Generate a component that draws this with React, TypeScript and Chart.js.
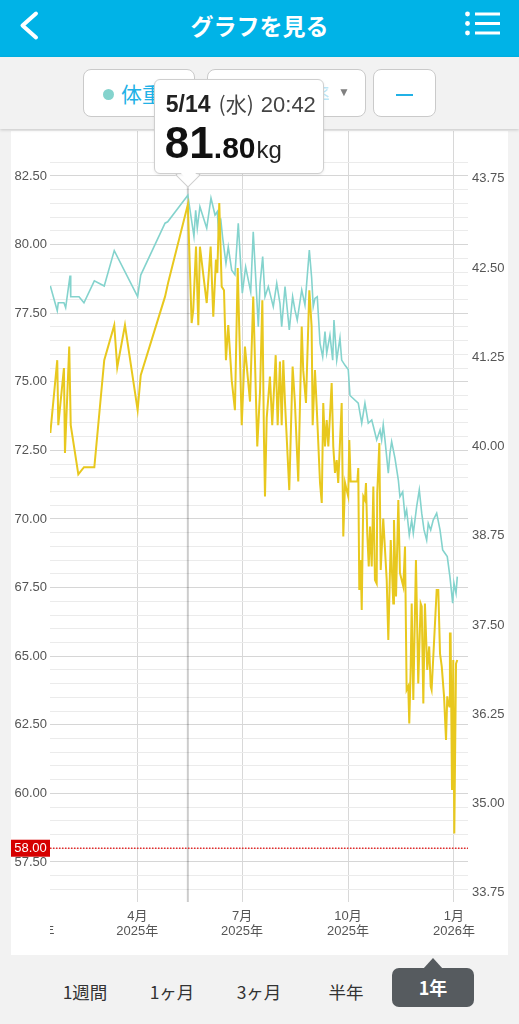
import React, { useEffect, useRef, useState } from 'react';
import { Chart, registerables } from 'chart.js';

Chart.register(...registerables);

// ---- data (x = days since 2025-01-01) ----
const weightDays = [
  14.5, 20.5, 21.4, 26.3, 27.8, 31.6, 32.2, 39.4, 43.7, 52.7, 61.3, 70.0, 90.3, 93.0, 114.1, 116.4, 133.9,
  139.2, 140.7, 142.1, 144.4, 150.3, 154.0, 157.5, 159.5, 161.0, 162.4, 164.2, 167.0, 169.0, 172.0, 174.8,
  177.7, 181.2, 184.1, 188.5, 190.7, 195.1, 196.6, 198.9, 200.9, 203.8, 208.1, 211.1, 213.9, 215.4, 218.3,
  222.0, 224.9, 226.9, 228.9, 232.8, 235.6, 239.4, 241.4, 242.8, 244.3, 246.3, 248.7, 251.0, 253.0, 254.5,
  257.3, 259.7, 260.8, 263.2, 266.0, 267.5, 270.4, 273.2, 274.7, 281.9, 284.9, 287.7, 290.6, 293.6, 295.1,
  297.9, 300.8, 302.2, 303.6, 305.1, 308.0, 309.4, 310.9, 313.8, 316.7, 318.1, 320.5, 322.5, 323.9, 326.2,
  328.3, 329.7, 332.6, 334.9, 337.0, 339.0, 341.3, 342.7, 344.8, 347.0, 350.0, 352.9, 355.2, 357.2, 359.2,
  361.5, 363.9, 365.0, 366.8, 367.9,
];
const weightValues = [
  78.49, 77.59, 77.88, 77.88, 77.7, 78.87, 78.1, 78.1, 77.88, 78.68, 78.49, 79.78, 78.1, 78.89, 80.78, 80.83, 81.8,
  80.3, 81.25, 80.6, 81.38, 80.6, 81.7, 81.08, 81.2, 80.17, 80.96, 80.23, 79.32, 79.92, 79.07, 78.9,
  80.78, 78.23, 79.19, 78.28, 80.47, 77.01, 78.55, 79.56, 78.1, 78.47, 77.74, 78.59, 77.86, 77.01, 78.47,
  76.89, 78.1, 77.62, 77.25, 78.35, 77.8, 79.8, 78.8, 77.74, 78.04, 78.1, 76.4, 75.91, 76.83, 76.04,
  76.7, 75.79, 77.25, 75.79, 76.6, 75.79, 75.6, 75.45, 74.5, 74.22, 73.49, 74.22, 73.49, 73.61, 73.36,
  72.88, 73.24, 72.88, 73.43, 72.88, 71.67, 72.39, 72.82, 72.21, 71.42, 70.81, 70.99, 70.08, 70.33, 69.42,
  69.96, 69.48, 70.45, 71.06, 70.21, 69.6, 69.23, 69.84, 69.6, 69.96, 70.21, 69.6, 68.87, 68.75, 68.63,
  67.9, 66.93, 67.66, 67.29, 67.9,
];
const fatDays = [
  14.5, 20.5, 21.4, 26.3, 27.2, 30.9, 32.2, 38.8, 43.7, 52.7, 61.3, 70.0, 72.6, 79.3, 90.3, 93.0, 114.1, 117.0, 133.9,
  137.2, 138.6, 141.0, 143.0, 144.4, 150.3, 153.7, 156.0, 158.3, 159.5, 161.2, 163.3, 165.3, 167.0, 169.0, 172.0,
  174.8, 177.2, 180.7, 183.5, 187.9, 190.7, 194.2, 196.6, 198.6, 200.0, 200.9, 202.4, 205.2, 207.2, 210.2, 211.9,
  213.9, 215.4, 216.8, 218.3, 222.0, 224.9, 226.9, 229.8, 232.8, 234.1, 236.5, 239.4, 241.4, 242.3, 244.3, 245.8,
  248.7, 250.2, 251.5, 253.0, 254.5, 255.9, 257.3, 258.8, 260.2, 261.7, 263.2, 264.5, 267.5, 268.9, 270.4, 271.8,
  273.2, 274.1, 275.3, 281.1, 281.9, 282.8, 284.0, 284.9, 286.3, 287.7, 288.6, 289.7, 291.0, 292.1, 293.6, 295.0,
  296.4, 297.9, 298.4, 300.2, 301.4, 303.6, 306.6, 308.0, 310.1, 312.3, 312.9, 314.7, 316.7, 318.1, 321.0, 322.5,
  323.9, 325.3, 326.2, 327.4, 328.3, 329.7, 332.0, 334.0, 336.1, 337.0, 338.4, 339.8, 341.8, 343.5, 344.8, 345.6,
  350.0, 351.4, 352.9, 354.4, 356.4, 358.1, 359.2, 360.1, 361.0, 361.5, 362.1, 363.3, 364.4, 365.3, 366.8, 367.9,
];
const fatValues = [
  40.19, 41.21, 40.3, 41.1, 39.91, 41.4, 40.3, 39.61, 39.71, 39.71, 41.21, 41.7, 41.11, 41.7, 40.51, 41.0, 42.1, 42.31, 43.39,
  41.73, 41.91, 42.8, 41.7, 42.8, 42.01, 42.8, 41.82, 42.62, 42.43, 43.41, 42.24, 42.19, 41.21, 41.7, 40.93,
  40.51, 42.5, 40.3, 41.4, 40.63, 42.1, 40.0, 40.77, 42.05, 40.12, 39.3, 40.4, 40.98, 40.3, 41.28, 40.3,
  41.19, 40.3, 41.21, 40.61, 39.39, 41.12, 40.61, 39.51, 41.68, 41.07, 40.61, 42.19, 41.68, 40.3, 41.07, 40.56,
  39.49, 39.21, 40.61, 40.0, 40.37, 40.0, 40.42, 40.89, 40.0, 39.63, 39.81, 39.49, 40.61, 38.74, 39.49, 39.39,
  39.3, 40.09, 39.51, 39.51, 39.7, 37.99, 38.41, 37.71, 39.3, 39.25, 39.49, 38.79, 38.32, 38.88, 38.32, 39.44,
  38.13, 38.08, 39.35, 40.05, 38.27, 38.99, 38.13, 37.29, 38.69, 37.8, 38.97, 37.9, 39.25, 38.23, 38.04, 38.6,
  36.59, 36.64, 36.12, 36.87, 37.8, 36.45, 38.41, 36.68, 37.8, 37.76, 36.4, 37.8, 36.87, 37.2, 36.64, 36.59,
  37.99, 37.99, 37.1, 36.92, 36.5, 35.89, 36.5, 36.4, 36.36, 37.38, 37.38, 35.19, 37.01, 34.58, 36.96, 37.01,
];

const monthTickDays = [0, 90, 181, 273, 365];
const monthTickLabels = [
  ['1月', '2025年'],
  ['4月', '2025年'],
  ['7月', '2025年'],
  ['10月', '2025年'],
  ['1月', '2026年'],
];
const weightLabelTicks = [57.5, 60, 62.5, 65, 67.5, 70, 72.5, 75, 77.5, 80, 82.5];
const weightGridStep = 0.5;
const weightGridFrom = 56.5;
const weightGridTo = 83;
const fatTicks = [33.75, 35.0, 36.25, 37.5, 38.75, 40.0, 41.25, 42.5, 43.75];
const targetWeight = 58.0;

const selectedIndex = 16;
const selectedDate = '5/14';
const selectedWeekday = '(水)';
const selectedTime = '20:42';

const tabLabels = ['1週間', '1ヶ月', '3ヶ月', '半年', '1年'];
const selectedTab = 4;

// ---- style ----
const FONT = '"Helvetica Neue", Arial, "Liberation Sans", "Noto Sans CJK JP", sans-serif';
const TEAL = '#84d3cd';
const YELLOW = '#e8c81e';
const BLUE = '#00b3e7';
const AXIS_TEXT = '#555555';

const X_MIN = 14.2;
const X_MAX = 377.2;
const YL_MIN = 56.04;
const YL_MAX = 84.14;
const YR_MIN = 33.62;
const YR_MAX = 44.42;

const CARD_LEFT = 11;
const CARD_TOP = 131;
const CARD_W = 497;
const CARD_H = 824;
const PLOT_BOTTOM = 771;

const isMajor = (v: number) => weightLabelTicks.some((t) => Math.abs(t - v) < 1e-6);
const noPad = (s: any) => {
  s.paddingTop = 0;
  s.paddingBottom = 0;
  s.paddingLeft = 0;
  s.paddingRight = 0;
};

export default function App() {
  const canvasRef = useRef<HTMLCanvasElement | null>(null);
  const [tip, setTip] = useState<{ x: number; y: number } | null>(null);

  useEffect(() => {
    const canvas = canvasRef.current;
    if (!canvas) return;

    const overlay = {
      id: 'overlay',
      beforeDatasetsDraw(chart: any) {
        const { ctx, chartArea, scales } = chart;
        const x = scales.x.getPixelForValue(weightDays[selectedIndex]);
        ctx.save();
        ctx.strokeStyle = 'rgba(0,0,0,0.2)';
        ctx.lineWidth = 2;
        ctx.beginPath();
        ctx.moveTo(x, chartArea.top);
        ctx.lineTo(x, chartArea.bottom);
        ctx.stroke();
        ctx.restore();
      },
      afterDraw(chart: any) {
        const { ctx, chartArea, scales } = chart;
        // target line
        const ty = scales.yL.getPixelForValue(targetWeight);
        ctx.save();
        ctx.strokeStyle = '#e32b2b';
        ctx.lineWidth = 1.5;
        ctx.setLineDash([1.5, 1.5]);
        ctx.beginPath();
        ctx.moveTo(chartArea.left, ty);
        ctx.lineTo(chartArea.right, ty);
        ctx.stroke();
        ctx.setLineDash([]);
        ctx.fillStyle = '#d60000';
        ctx.fillRect(0, ty - 8.5, chartArea.left, 17);
        ctx.fillStyle = '#ffffff';
        ctx.font = '13px ' + FONT;
        ctx.textAlign = 'center';
        ctx.textBaseline = 'middle';
        ctx.fillText(targetWeight.toFixed(2), chartArea.left / 2, ty + 0.5);
        ctx.restore();

        // month labels lying outside the visible range (clipped at the plot edge)
        ctx.save();
        ctx.beginPath();
        ctx.rect(chartArea.left, chartArea.bottom, chartArea.right - chartArea.left, chart.height - chartArea.bottom);
        ctx.clip();
        ctx.fillStyle = AXIS_TEXT;
        ctx.font = '13px ' + FONT;
        ctx.textAlign = 'center';
        ctx.textBaseline = 'middle';
        monthTickDays.forEach((d, i) => {
          if (d >= X_MIN && d <= X_MAX) return;
          const px = scales.x.getPixelForValue(d);
          monthTickLabels[i].forEach((line, j) => {
            ctx.fillText(line, px, chartArea.bottom + 7 + 7.5 + j * 15);
          });
        });
        ctx.restore();
      },
    };

    const chart = new Chart(canvas, {
      type: 'line',
      data: {
        datasets: [
          {
            label: '体脂肪率',
            data: fatDays.map((d, i) => ({ x: d, y: fatValues[i] })),
            yAxisID: 'yR',
            borderColor: YELLOW,
            borderWidth: 2,
            pointRadius: 0,
            tension: 0,
          },
          {
            label: '体重',
            data: weightDays.map((d, i) => ({ x: d, y: weightValues[i] })),
            yAxisID: 'yL',
            borderColor: TEAL,
            borderWidth: 1.6,
            pointRadius: 0,
            tension: 0,
          },
        ],
      },
      options: {
        animation: false,
        responsive: false,
        events: [],
        layout: { padding: 0 },
        plugins: { legend: { display: false }, tooltip: { enabled: false } },
        scales: {
          x: {
            type: 'linear',
            min: X_MIN,
            max: X_MAX,
            afterBuildTicks: (s: any) => {
              s.ticks = monthTickDays.filter((d) => d >= X_MIN && d <= X_MAX).map((v) => ({ value: v }));
            },
            afterFit: (s: any) => {
              s.height = CARD_H - PLOT_BOTTOM;
              noPad(s);
            },
            ticks: {
              autoSkip: false,
              maxRotation: 0,
              padding: 7,
              color: AXIS_TEXT,
              font: { family: FONT, size: 13, lineHeight: 1.15 },
              callback: (v: any) => {
                const i = monthTickDays.indexOf(Number(v));
                return i >= 0 ? monthTickLabels[i] : '';
              },
            },
            grid: { color: '#d8d8d8', lineWidth: 1, drawTicks: false },
            border: { display: false },
          },
          yL: {
            type: 'linear',
            position: 'left',
            min: YL_MIN,
            max: YL_MAX,
            afterBuildTicks: (s: any) => {
              const t: any[] = [];
              for (let v = weightGridFrom; v <= weightGridTo + 1e-9; v += weightGridStep) t.push({ value: Math.round(v * 100) / 100 });
              s.ticks = t;
            },
            afterFit: (s: any) => {
              s.width = 39;
              noPad(s);
            },
            ticks: {
              autoSkip: false,
              padding: 3,
              color: AXIS_TEXT,
              font: { family: FONT, size: 13 },
              callback: (v: any) => (isMajor(Number(v)) ? Number(v).toFixed(2) : ''),
            },
            grid: {
              drawTicks: false,
              lineWidth: 1,
              color: (ctx: any) => (ctx.tick && isMajor(ctx.tick.value) ? '#d6d6d6' : '#ebebeb'),
            },
            border: { display: false },
          },
          yR: {
            type: 'linear',
            position: 'right',
            min: YR_MIN,
            max: YR_MAX,
            afterBuildTicks: (s: any) => {
              s.ticks = fatTicks.map((v) => ({ value: v }));
            },
            afterFit: (s: any) => {
              s.width = 40;
              noPad(s);
            },
            ticks: {
              autoSkip: false,
              padding: 4,
              color: AXIS_TEXT,
              font: { family: FONT, size: 13 },
              callback: (v: any) => Number(v).toFixed(2),
            },
            grid: { display: false, drawTicks: false },
            border: { display: false },
          },
        },
      } as any,
      plugins: [overlay],
    });

    const px = chart.scales.x.getPixelForValue(weightDays[selectedIndex]);
    const py = chart.scales.yL.getPixelForValue(weightValues[selectedIndex]);
    setTip({ x: px + CARD_LEFT, y: py + CARD_TOP });

    return () => {
      chart.destroy();
    };
  }, []);

  const sel = weightValues[selectedIndex].toFixed(2);
  const [selInt, selDec] = sel.split('.');

  return (
    <div
      style={{
        position: 'fixed',
        left: 0,
        top: 0,
        width: 519,
        height: 1024,
        overflow: 'hidden',
        background: '#f2f2f2',
        fontFamily: FONT,
      }}
    >
      {/* header */}
      <div style={{ position: 'absolute', left: 0, top: 0, width: 519, height: 57, background: BLUE }}>
        <svg width="519" height="57" style={{ position: 'absolute', left: 0, top: 0 }}>
          <polyline points="36,13.5 22.5,25.5 36,37.5" fill="none" stroke="#fff" strokeWidth="4" strokeLinecap="round" strokeLinejoin="round" />
          {[14, 23.5, 33].map((y) => (
            <g key={y}>
              <circle cx="467.5" cy={y} r="2.4" fill="#fff" />
              <line x1="475" y1={y} x2="500" y2={y} stroke="#fff" strokeWidth="3" />
            </g>
          ))}
        </svg>
        <div
          style={{
            position: 'absolute',
            left: 0,
            width: 519,
            top: 10,
            textAlign: 'center',
            color: '#fff',
            fontWeight: 'bold',
            fontSize: 23,
            lineHeight: '30px',
            fontFamily: '"Noto Sans CJK JP", sans-serif',
          }}
        >
          グラフを見る
        </div>
      </div>

      {/* selector bar */}
      <div
        style={{
          position: 'absolute',
          left: 0,
          top: 57,
          width: 519,
          height: 72,
          background: '#f2f2f2',
          boxShadow: '0 1px 3px rgba(0,0,0,0.18)',
          zIndex: 2,
        }}
      >
        <div style={{ position: 'absolute', left: 83, top: 12, width: 112, height: 48, background: '#fff', border: '1px solid #cacaca', borderRadius: 8, boxSizing: 'border-box' }}>
          <div style={{ position: 'absolute', left: 19, top: 19, width: 11, height: 11, borderRadius: 6, background: TEAL }} />
          <div style={{ position: 'absolute', left: 37, top: 9, fontSize: 21, lineHeight: '28px', color: '#21b1e6', fontFamily: '"Noto Sans CJK JP", sans-serif' }}>体重</div>
        </div>
        <div style={{ position: 'absolute', left: 207, top: 12, width: 159, height: 48, background: '#fff', border: '1px solid #cacaca', borderRadius: 8, boxSizing: 'border-box' }}>
          <div style={{ position: 'absolute', left: 20, top: 19, width: 11, height: 11, borderRadius: 6, background: '#f6eaa8' }} />
          <div style={{ position: 'absolute', left: 38, top: 9, fontSize: 21, lineHeight: '28px', color: '#bde6f6', fontFamily: '"Noto Sans CJK JP", sans-serif' }}>体脂肪率</div>
          <div style={{ position: 'absolute', left: 130, top: 14, fontSize: 12, lineHeight: '16px', color: '#808080' }}>▼</div>
        </div>
        <div style={{ position: 'absolute', left: 373, top: 12, width: 63, height: 48, background: '#fff', border: '1px solid #cacaca', borderRadius: 8, boxSizing: 'border-box' }}>
          <div style={{ position: 'absolute', left: 22, top: 24, width: 17, height: 2, background: '#21b1e6' }} />
        </div>
      </div>

      {/* chart card */}
      <div style={{ position: 'absolute', left: CARD_LEFT, top: CARD_TOP, width: CARD_W, height: CARD_H, background: '#fff' }}>
        <canvas ref={canvasRef} width={CARD_W} height={CARD_H} style={{ width: CARD_W, height: CARD_H, display: 'block' }} />
      </div>

      {/* period tabs */}
      {tabLabels.map((t, i) => {
        const cx = 85 + 87 * i;
        if (i === selectedTab) {
          return (
            <div key={t}>
              <div style={{ position: 'absolute', left: cx - 10, top: 958, width: 0, height: 0, borderLeft: '10px solid transparent', borderRight: '10px solid transparent', borderBottom: '11px solid #565b5f' }} />
              <div
                style={{
                  position: 'absolute',
                  left: cx - 41,
                  top: 968,
                  width: 82,
                  height: 39,
                  borderRadius: 7,
                  background: '#565b5f',
                  color: '#fff',
                  fontWeight: 'bold',
                  fontSize: 18,
                  lineHeight: '39px',
                  textAlign: 'center',
                  fontFamily: '"Noto Sans CJK JP", sans-serif',
                }}
              >
                {t}
              </div>
            </div>
          );
        }
        return (
          <div
            key={t}
            style={{
              position: 'absolute',
              left: cx - 40,
              width: 80,
              top: 979,
              fontSize: 17.5,
              lineHeight: '26px',
              textAlign: 'center',
              color: '#333',
              fontFamily: '"Noto Sans CJK JP", sans-serif',
            }}
          >
            {t}
          </div>
        );
      })}

      {/* tooltip */}
      {tip && (
        <div style={{ position: 'absolute', left: tip.x - 34, top: 79, width: 170, height: tip.y - 11 - 10 - 79, zIndex: 5 }}>
          <div
            style={{
              position: 'absolute',
              left: 34 - 9,
              bottom: -9 - 1,
              width: 18,
              height: 18,
              background: '#fff',
              border: '1px solid #cfcfcf',
              transform: 'rotate(45deg)',
              boxSizing: 'border-box',
            }}
          />
          <div
            style={{
              position: 'absolute',
              inset: 0,
              background: '#fff',
              border: '1px solid #cfcfcf',
              borderRadius: 6,
              boxSizing: 'border-box',
              boxShadow: '0 1px 3px rgba(0,0,0,0.08)',
            }}
          />
          <div style={{ position: 'absolute', left: 34 - 8, bottom: -4, width: 16, height: 10, background: '#fff', transform: 'rotate(45deg)' }} />
          <div style={{ position: 'absolute', left: 12, top: 11, whiteSpace: 'nowrap', lineHeight: '26px', color: '#222' }}>
            <span style={{ fontWeight: 'bold', fontSize: 23 }}>{selectedDate}</span>
            <span style={{ fontSize: 21, color: '#444', marginLeft: 8, fontFamily: '"Noto Sans CJK JP", sans-serif' }}>{selectedWeekday}</span>
            <span style={{ fontSize: 22, color: '#444', marginLeft: 7 }}>{selectedTime}</span>
          </div>
          <div style={{ position: 'absolute', left: 11, top: 40, whiteSpace: 'nowrap', lineHeight: '48px', color: '#111' }}>
            <span style={{ fontWeight: 'bold', fontSize: 44 }}>{selInt}</span>
            <span style={{ fontWeight: 'bold', fontSize: 30 }}>.{selDec}</span>
            <span style={{ fontSize: 24, color: '#222', marginLeft: 1 }}>kg</span>
          </div>
        </div>
      )}
    </div>
  );
}
